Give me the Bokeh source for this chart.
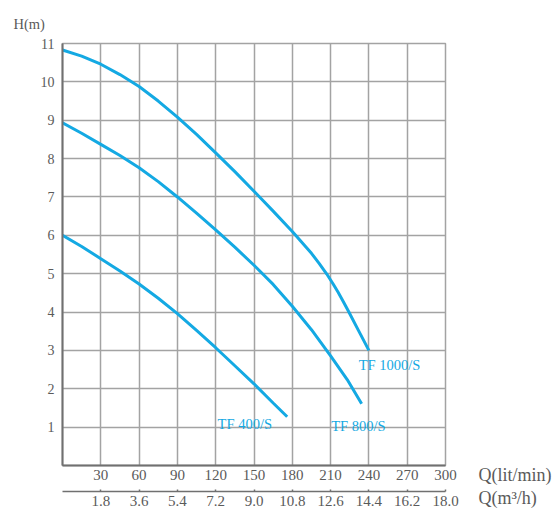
from bokeh.plotting import figure
from bokeh.models import Range1d, LinearAxis, FixedTicker, Label, CustomJSTickFormatter
from bokeh.embed import file_html
from bokeh.resources import INLINE

# ---- data ----
q_lpm_ticks = [30, 60, 90, 120, 150, 180, 210, 240, 270, 300]
q_m3h_ticks = [1.8, 3.6, 5.4, 7.2, 9.0, 10.8, 12.6, 14.4, 16.2, 18.0]
h_ticks = [1, 2, 3, 4, 5, 6, 7, 8, 9, 10, 11]

tf1000_q = [0, 15, 30, 45, 60, 75, 90, 105, 120, 135, 150, 165, 180, 195, 201, 207, 212, 216, 220, 224, 232, 240]
tf1000_h = [10.83, 10.67, 10.46, 10.19, 9.88, 9.50, 9.08, 8.63, 8.15, 7.66, 7.15, 6.63, 6.10, 5.53, 5.27, 4.99, 4.73, 4.51, 4.27, 4.02, 3.51, 3.0]

tf800_q = [0, 15, 30, 45, 60, 75, 90, 105, 120, 135, 150, 165, 180, 195, 210, 223, 234.3]
tf800_h = [8.93, 8.66, 8.37, 8.08, 7.76, 7.40, 7.0, 6.58, 6.14, 5.69, 5.22, 4.72, 4.15, 3.54, 2.86, 2.24, 1.61]

tf400_q = [0, 15, 30, 45, 60, 75, 90, 105, 120, 135, 150, 165, 176]
tf400_h = [6.0, 5.71, 5.39, 5.07, 4.73, 4.36, 3.96, 3.52, 3.07, 2.6, 2.13, 1.63, 1.27]

series_names = ["TF 1000/S", "TF 800/S", "TF 400/S"]
label_pos = [(232, 2.63), (210.5, 1.04), (121.5, 1.07)]

# ---- style ----
BLUE = "#14a9e3"
GRID = "#a3a3a3"
AXIS = "#707070"
TXT = "#5a5a5a"
FONT = "Liberation Serif"

p = figure(output_backend="svg", toolbar_location=None,
           x_range=Range1d(0, 300), y_range=Range1d(0, 11),
           frame_width=383, frame_height=422,
           min_border_left=62, min_border_top=43, min_border_right=110,
           min_border_bottom=44, background_fill_color="white",
           border_fill_color="white")

p.outline_line_color = GRID
p.outline_line_width = 1.5

# title used as the H(m) axis caption
p.title.text = "H(m)"
p.title.align = "left"
p.title.offset = -49
p.title.standoff = 24
p.title.text_font = FONT
p.title.text_font_style = "normal"
p.title.text_font_size = "14.5px"
p.title.text_color = TXT

# primary x axis (lit/min)
xa = p.xaxis[0]
xa.ticker = FixedTicker(ticks=q_lpm_ticks)
xa.axis_line_color = AXIS
xa.axis_line_width = 2
xa.major_tick_line_color = None
xa.minor_tick_line_color = None
xa.major_tick_out = 0
xa.major_tick_in = 0
xa.major_label_standoff = 4
xa.major_label_text_font = FONT
xa.major_label_text_font_size = "15px"
xa.major_label_text_color = TXT
xa.axis_label = " "
xa.axis_label_text_font_size = "5px"
xa.axis_label_standoff = 0

# y axis
ya = p.yaxis[0]
ya.ticker = FixedTicker(ticks=h_ticks)
ya.axis_line_color = AXIS
ya.axis_line_width = 2
ya.major_tick_line_color = None
ya.minor_tick_line_color = None
ya.major_tick_out = 0
ya.major_tick_in = 0
ya.major_label_standoff = 8
ya.major_label_text_font = FONT
ya.major_label_text_font_size = "14px"
ya.major_label_text_color = TXT

# grid
p.xgrid.ticker = FixedTicker(ticks=q_lpm_ticks)
p.ygrid.ticker = FixedTicker(ticks=h_ticks)
for g in (p.xgrid[0], p.ygrid[0]):
    g.grid_line_color = GRID
    g.grid_line_width = 1.5

# secondary x axis (m3/h)
p.extra_x_ranges = {"m3h": Range1d(0, 18)}
xa2 = LinearAxis(x_range_name="m3h", ticker=FixedTicker(ticks=q_m3h_ticks),
                 formatter=CustomJSTickFormatter(code="return tick.toFixed(1);"))
xa2.axis_line_color = AXIS
xa2.axis_line_width = 1.5
xa2.major_tick_line_color = AXIS
xa2.major_tick_line_width = 1.5
xa2.major_tick_out = 0
xa2.major_tick_in = 2
xa2.minor_tick_line_color = None
xa2.major_label_standoff = 4
xa2.major_label_text_font = FONT
xa2.major_label_text_font_size = "15px"
xa2.major_label_text_color = TXT
p.add_layout(xa2, "below")

# curves
for qs, hs in ((tf1000_q, tf1000_h), (tf800_q, tf800_h), (tf400_q, tf400_h)):
    p.line(qs, hs, line_color=BLUE, line_width=3)

for name, (lx, ly) in zip(series_names, label_pos):
    p.add_layout(Label(x=lx, y=ly, text=name, text_font=FONT, text_font_size="14.5px",
                       text_color=BLUE, text_baseline="middle", text_align="left"))

# flow-axis captions, put in the right side panel so they are not clipped to the frame
p.add_layout(Label(x=325.8, y=-0.24, text="Q(lit/min)",
                   text_font=FONT, text_font_size="18px", text_color=TXT,
                   text_baseline="middle", text_align="left"), "right")
p.add_layout(Label(x=325.8, y=-0.85, text="Q(m³/h)",
                   text_font=FONT, text_font_size="18px", text_color=TXT,
                   text_baseline="middle", text_align="left"), "right")

open("out.html", "w").write(file_html(p, INLINE))
